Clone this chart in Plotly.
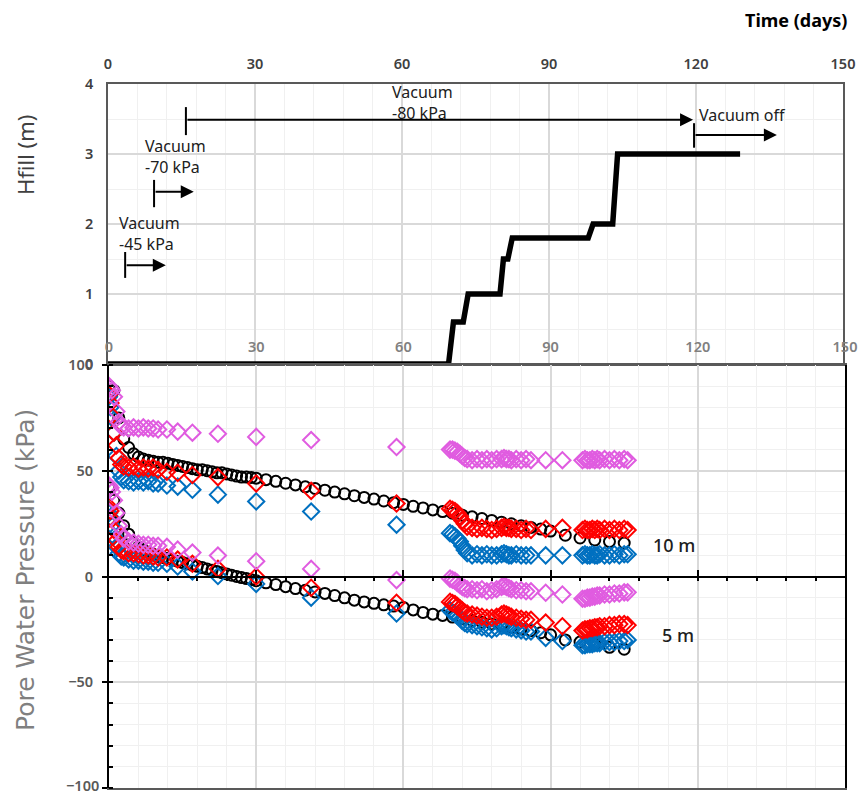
import plotly.graph_objects as go

# ---------------- data ----------------
# Top panel: fill height (m) vs time (days)
fill_t = [0, 69.5, 70.5, 72.5, 73.5, 80, 80.7, 81.6, 82.5, 98, 99, 103, 104, 129]
fill_h = [0, 0, 0.6, 0.6, 1.0, 1.0, 1.5, 1.5, 1.8, 1.8, 2.0, 2.0, 3.0, 3.0]

# Bottom panel: circle series time base (days)
t_circ = [0, 1, 2, 3, 4, 5, 6, 7, 8, 9, 10, 11, 12, 13, 14, 15, 16, 17, 18, 19, 20,
          21, 22, 23, 24, 25, 26, 27, 28, 29, 30,
          32, 34, 36, 38, 40, 42, 44, 46, 48, 50, 52, 54, 56, 58, 60, 62, 64, 66, 68,
          70, 72, 74, 76, 78, 80, 82, 84, 86, 88, 90,
          93, 96, 99, 102, 105]

circ_10m = [90, 88, 75, 65, 61, 58, 56.5, 55.5, 55, 54.5, 54, 54, 53.5, 53, 52.5, 52, 51.5, 51, 50.5, 50.5, 50,
            49.5, 49, 49, 48.5, 48, 47.5, 47, 47, 46.8, 46.5,
            45.8, 45, 44.1, 43.3, 42.4, 41.6, 40.8, 39.9, 39.1, 38.2, 37.4, 36.6, 35.7, 34.9, 34.1, 33.2, 32.4, 31.5, 30.7,
            29.9, 29, 28.2, 27.4, 26.5, 25.7, 24.9, 24, 23.2, 22.4, 21.5,
            19.5, 18.2, 17.2, 16.5, 15.8]

circ_5m = [42, 36, 30, 24, 20, 16, 14, 12.5, 11.5, 10.5, 9.5, 9, 8.5, 7.8, 7.2, 6.6, 6, 5.4, 4.8, 4.2, 3.6,
           3, 2.4, 1.8, 1.2, 0.6, 0, -0.5, -1, -1.5, -2,
           -3, -3.8, -4.8, -5.7, -6.5, -7.3, -8, -9, -10.1, -11.2, -12, -12.7, -13.4, -14, -14.6, -15.8, -17, -17.8, -18.4,
           -19.2, -20, -20.8, -21.6, -22.4, -23.2, -24, -24.8, -25.6, -26.6, -27.6,
           -30, -31, -32, -33.5, -34.4]

# Bottom panel: diamond series time base (days)
t_diam = [0, 0.3, 0.6, 1, 1.5, 2, 2.5, 3, 4, 5, 6, 7, 8, 9, 10,
          11.8, 14, 17, 22.2, 30, 41.2, 58.6,
          69.5, 70, 70.5, 71, 71.5, 72, 72.5, 73, 74, 75, 76, 77, 78, 79, 80, 80.5, 81, 81.5, 82, 83, 84, 85, 86,
          89, 92.4,
          96.5, 97, 97.5, 98, 98.5, 99, 99.5, 100, 101, 102, 103, 104, 105, 105.7]

violet_10m = [90, 89, 88, 85, 78, 73, 71, 70.5, 70, 70.5, 70, 70.5, 70, 70, 69.5,
              69.5, 68.5, 68, 67.5, 66, 64.5, 61.2,
              60, 60, 59.5, 59, 58, 57, 56, 55.5, 55, 55.5, 55, 55.5, 55, 55.5, 55.5, 56, 55.5, 55.5, 55, 55.5, 55, 55.5, 55,
              55, 55,
              55, 55.5, 55, 55, 55.5, 55, 55.5, 55, 55.5, 55, 55.5, 55, 55.5, 55]

red_10m = [86, 82, 76, 68, 62, 56, 53, 52, 51.5, 52, 51, 51.5, 51, 51.5, 50.5,
           49.5, 49, 48, 47, 44, 40.5, 34.5,
           32, 31.5, 31, 30, 28.5, 26.5, 25, 23.5, 23, 22.5, 23, 22.5, 22, 22.5, 23, 23.5, 23, 23, 22.5, 22.5, 22, 22.5, 22,
           22.5, 23,
           22, 22.5, 22, 22, 22.5, 22, 22.5, 22, 22.5, 22, 22.5, 22, 22.5, 22]

blue_10m = [85, 80, 75, 68, 57, 50, 47, 45.5, 45, 44.5, 45, 44.5, 45, 44, 44,
            43, 42.5, 41, 38.7, 35.5, 30.7, 24.5,
            20.5, 20, 19, 18, 16.5, 14.5, 12.5, 11, 10, 10.5, 10, 10.5, 10, 10, 10.5, 11, 10.5, 10, 10, 10.5, 10, 10, 10,
            10, 10,
            10, 10.5, 10, 10, 10.5, 10, 10, 10.5, 10, 10, 10.5, 10, 10.5, 10.5]

violet_5m = [43, 42, 40, 36, 30, 24, 20, 18, 16.5, 16, 15.5, 15, 15, 14.5, 14.5,
             14, 12.7, 11.3, 9.9, 7.2, 3.6, -1.7,
             -1, -1.5, -2, -3, -4, -5, -5.5, -6, -6, -6.5, -6, -7, -6.5, -6, -5, -4.5, -5, -5.5, -6, -6.5, -6.5, -7, -7,
             -7.7, -8.5,
             -10.5, -10.5, -10, -10, -9.5, -9.5, -9, -9, -8.5, -8.5, -8, -8, -7.5, -7.5]

red_5m = [33, 31, 27, 22, 17, 14, 12.5, 12, 11, 11, 10.5, 10, 10, 9.5, 9,
          9, 8, 6, 3.6, 0, -5.3, -12.4,
          -12, -12.5, -13, -14, -15, -16, -17, -17.5, -18, -18.5, -19, -19.5, -19.5, -19, -18, -17.5, -18, -18.5, -19, -19.5, -20, -20.5, -20.5,
          -21.8, -23.5,
          -25.5, -25, -25, -24.5, -24.5, -24, -24, -23.5, -23.5, -23, -23, -22.5, -22.5, -23]

blue_5m = [30, 28, 24, 19, 14, 11, 9.5, 9, 8, 7.5, 7.5, 7, 7, 6.5, 6.5,
           6, 4.7, 2.4, 0.2, -3.5, -10, -17.5,
           -16, -17, -17.5, -18.5, -19.5, -21, -22, -22.5, -23, -23.5, -24, -24.5, -25, -24.5, -23.5, -23, -23.5, -24, -24.5, -25, -25.5, -26, -26,
           -29, -30.5,
           -32.5, -32.5, -32, -32, -32, -31.5, -31.5, -31.5, -31, -31, -31, -30.5, -30.5, -30]

x_ticks = [0, 30, 60, 90, 120, 150]
hfill_ticks = [0, 1, 2, 3, 4]
pwp_ticks = [-100, -50, 0, 50, 100]

# vacuum stage annotations: (label, text_x, text_y, bar_x, bar_y0, bar_y1, arrow_y, arrow_end)
stages = [
    ("Vacuum<br>-45 kPa", 1.8, 1.87, 3.5, 1.23, 1.6, 1.41, 11.8),
    ("Vacuum<br>-70 kPa", 7.1, 2.96, 9.4, 2.24, 2.63, 2.46, 17.5),
    ("Vacuum<br>-80 kPa", 57.6, 3.74, 15.9, 3.27, 3.67, 3.49, 119.4),
    ("Vacuum off", 120.2, 3.56, 119.6, 3.09, 3.44, 3.27, 136.5),
]

# ---------------- figure ----------------
W, H = 858, 796
FONT = "Noto Sans"
VIOLET = "#E05CE0"
RED = "#FF0000"
BLUE = "#0070C0"

fig = go.Figure()

fig.add_trace(go.Scatter(x=fill_t, y=fill_h, mode="lines",
                         line=dict(color="black", width=5.5),
                         xaxis="x", yaxis="y", showlegend=False, cliponaxis=False))

def circ(x, y):
    return go.Scatter(x=x, y=y, mode="markers", xaxis="x2", yaxis="y2", showlegend=False,
                      marker=dict(symbol="circle-open", size=11, color="black", line=dict(width=2)))

def diam(x, y, c):
    return go.Scatter(x=x, y=y, mode="markers", xaxis="x2", yaxis="y2", showlegend=False,
                      marker=dict(symbol="diamond-open", size=12.5, color=c, line=dict(width=2)))

fig.add_trace(circ(t_circ, circ_10m))
fig.add_trace(circ(t_circ, circ_5m))
fig.add_trace(diam(t_diam, blue_10m, BLUE))
fig.add_trace(diam(t_diam, blue_5m, BLUE))
fig.add_trace(diam(t_diam, red_10m, RED))
fig.add_trace(diam(t_diam, red_5m, RED))
fig.add_trace(diam(t_diam, violet_10m, VIOLET))
fig.add_trace(diam(t_diam, violet_5m, VIOLET))
# helper (empty) trace for the zero-line axis
fig.add_trace(go.Scatter(x=[None], y=[None], xaxis="x3", yaxis="y2", showlegend=False, hoverinfo="skip"))

top_x_dom = [108 / W, 843 / W]
top_y_dom = [(H - 364) / H, (H - 84) / H]
bot_x_dom = [109 / W, 845 / W]
bot_y_dom = [(H - 788) / H, (H - 365) / H]

grid_major = "#d9d9d9"
grid_minor = "#f0f0f0"
TICK_SIZE = 14.5

fig.update_layout(
    width=W, height=H, autosize=False,
    margin=dict(l=0, r=0, t=0, b=0, pad=0, autoexpand=False),
    paper_bgcolor="white", plot_bgcolor="white",
    font=dict(family=FONT, color="#404040"),
    xaxis=dict(domain=top_x_dom, anchor="y", range=[0, 150], side="top", automargin=False,
               tickvals=x_ticks, ticks="", ticklabelstandoff=7,
               tickfont=dict(size=TICK_SIZE, color="#404040", weight=600),
               showgrid=True, gridcolor=grid_major, gridwidth=1.5,
               minor=dict(dtick=6, showgrid=True, gridcolor=grid_minor, gridwidth=1),
               showline=True, linecolor="#595959", linewidth=1.5, mirror=True, zeroline=False),
    yaxis=dict(domain=top_y_dom, anchor="x", range=[0, 4], automargin=False,
               tickvals=hfill_ticks, ticks="", ticklabelstandoff=10,
               tickfont=dict(size=TICK_SIZE, color="#404040", weight=600),
               showgrid=True, gridcolor=grid_major, gridwidth=1.5,
               minor=dict(dtick=0.5, showgrid=True, gridcolor=grid_minor, gridwidth=1),
               showline=True, linecolor="#595959", linewidth=1.5, mirror=True, zeroline=False),
    xaxis2=dict(domain=bot_x_dom, anchor="y2", range=[0, 150], side="top", automargin=False,
                tickvals=x_ticks, ticks="", ticklabelstandoff=5,
                tickfont=dict(size=TICK_SIZE, color="#808080", weight=600),
                showgrid=True, gridcolor=grid_major, gridwidth=1.5,
                minor=dict(dtick=6, showgrid=True, gridcolor=grid_minor, gridwidth=1),
                showline=True, linecolor="#595959", linewidth=2, mirror=True, zeroline=False),
    yaxis2=dict(domain=bot_y_dom, anchor="x2", range=[-100, 100], automargin=False,
                tickvals=pwp_ticks, ticks="outside", ticklen=5, tickcolor="black", tickwidth=1.5,
                ticklabelstandoff=6,
                tickfont=dict(size=TICK_SIZE, color="#595959", weight=600),
                showgrid=True, gridcolor=grid_major, gridwidth=1.5,
                minor=dict(dtick=10, showgrid=True, gridcolor=grid_minor, gridwidth=1,
                           ticks="inside", ticklen=4, tickcolor="black"),
                showline=True, linecolor="black", linewidth=2, mirror=True, zeroline=False),
    xaxis3=dict(overlaying="x2", anchor="free", position=(bot_y_dom[0] + bot_y_dom[1]) / 2,
                automargin=False,
                range=[0, 150], tickvals=x_ticks, ticks="inside", ticklen=6, tickwidth=1.5,
                tickcolor="black", showticklabels=False, showgrid=False, zeroline=False,
                minor=dict(dtick=6, ticks="outside", ticklen=4, tickcolor="black", showgrid=False),
                showline=True, linecolor="black", linewidth=1.5),
)

ann = []
shapes = []
for label, tx, ty, bx, by0, by1, ay, aend in stages:
    ann.append(dict(x=tx, y=ty, xref="x", yref="y", text=label, showarrow=False,
                    xanchor="left", yanchor="middle", align="left",
                    font=dict(family=FONT, size=16, color="#202020")))
    shapes.append(dict(type="line", xref="x", yref="y", x0=bx, x1=bx, y0=by0, y1=by1,
                       line=dict(color="black", width=2)))
    ann.append(dict(x=aend, y=ay, ax=bx, ay=ay, xref="x", yref="y", axref="x", ayref="y",
                    text="", showarrow=True, arrowhead=2, arrowsize=1.3, arrowwidth=2,
                    arrowcolor="black"))

ann.append(dict(x=110.5, y=15, xref="x2", yref="y2", text="10 m", showarrow=False,
                xanchor="left", yanchor="middle",
                font=dict(family=FONT, size=18, color="#202020", weight=500)))
ann.append(dict(x=112.3, y=-27.5, xref="x2", yref="y2", text="5 m", showarrow=False,
                xanchor="left", yanchor="middle",
                font=dict(family=FONT, size=18, color="#202020", weight=500)))

# bottom-most pressure tick label sits on the page edge; draw it as text so it is not dropped
ann.append(dict(x=0, y=pwp_ticks[0], xref="x2", yref="y2",
                text="\u2212" + str(abs(pwp_ticks[0])), showarrow=False,
                xanchor="right", yanchor="middle", xshift=-9, yshift=3, borderpad=0,
                font=dict(family=FONT, size=TICK_SIZE, color="#595959", weight=600)))

ann.append(dict(x=796 / W, y=(H - 20) / H, xref="paper", yref="paper", text="<b>Time (days)</b>",
                showarrow=False, xanchor="center", yanchor="middle",
                font=dict(family=FONT, size=18, color="black")))
ann.append(dict(x=25 / W, y=(H - 155) / H, xref="paper", yref="paper", text="Hfill (m)",
                showarrow=False, textangle=-90, xanchor="center", yanchor="middle",
                font=dict(family=FONT, size=22, color="#404040")))
ann.append(dict(x=25 / W, y=(H - 570) / H, xref="paper", yref="paper", text="Pore Water Pressure (kPa)",
                showarrow=False, textangle=-90, xanchor="center", yanchor="middle",
                font=dict(family="DejaVu Sans", size=25, color="#808080")))

fig.update_layout(annotations=ann, shapes=shapes)

fig.write_html("out.html")
